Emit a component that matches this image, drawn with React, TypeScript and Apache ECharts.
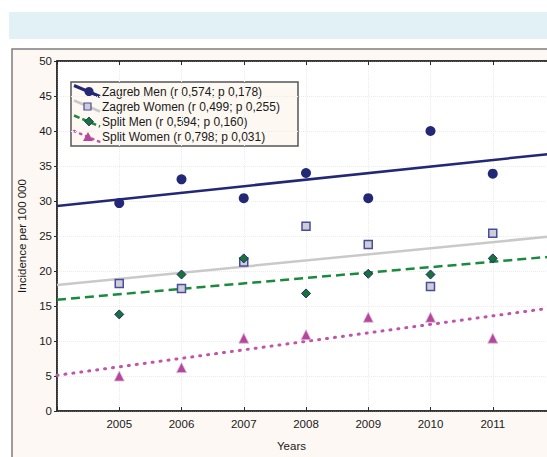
import React, { useEffect, useRef } from "react";
import * as echarts from "echarts";

const years = [2005, 2006, 2007, 2008, 2009, 2010, 2011];
const zagrebMen = [29.7, 33.1, 30.4, 34.0, 30.4, 40.0, 33.9];
const zagrebWomen = [18.2, 17.5, 21.3, 26.4, 23.8, 17.8, 25.4];
const splitMen = [13.8, 19.5, 21.8, 16.8, 19.6, 19.5, 21.8];
const splitWomen = [5.0, 6.2, 10.4, 10.9, 13.4, 13.4, 10.4];

const fitYears = [2004, 2012];
const zagrebMenFit = [29.3, 36.8];
const zagrebWomenFit = [18.0, 25.0];
const splitMenFit = [15.9, 22.1];
const splitWomenFit = [5.1, 14.8];

const legendLabels = [
  "Zagreb Men (r 0,574; p 0,178)",
  "Zagreb Women (r 0,499; p 0,255)",
  "Split Men (r 0,594; p 0,160)",
  "Split Women (r 0,798; p 0,031)",
];

const xName = "Years";
const yName = "Incidence per 100 000";

const C_NAVY = "#222776";
const C_GRAY_LINE = "#c9c9c9";
const C_SQ_FILL = "#cdced8";
const C_SQ_BORDER = "#4a4c9c";
const C_GREEN = "#1c8a3e";
const C_GREEN_DK = "#18733a";
const C_MAGENTA = "#c054a8";
const C_TRI = "#b4479c";

const FONT = "'Liberation Sans', Arial, sans-serif";

const pts = (ys: number[]) => years.map((y, i) => [y, ys[i]]);
const fit = (ys: number[]) => fitYears.map((y, i) => [y, ys[i]]);

export default function App() {
  const ref = useRef<HTMLDivElement>(null);
  useEffect(() => {
    if (!ref.current) return;
    const chart = echarts.init(ref.current, undefined, { renderer: "svg" });
    const lx = 74;
    const rowY = [91.5, 106.5, 121.5, 137];
    const legendChildren: any[] = [
      {
        type: "rect",
        shape: { x: 71, y: 82, width: 227, height: 64 },
        style: { fill: "#fdf8f2", stroke: "#555", lineWidth: 1.5 },
      },
    ];
    legendChildren.push(
      { type: "line", shape: { x1: lx, y1: rowY[0] - 6, x2: lx + 26, y2: rowY[0] + 5 }, style: { stroke: C_NAVY, lineWidth: 3 } },
      { type: "circle", shape: { cx: lx + 15, cy: rowY[0], r: 4.5 }, style: { fill: C_NAVY } }
    );
    legendChildren.push(
      { type: "line", shape: { x1: lx, y1: rowY[1] - 6, x2: lx + 26, y2: rowY[1] + 5 }, style: { stroke: C_GRAY_LINE, lineWidth: 2.5 } },
      { type: "rect", shape: { x: lx + 10, y: rowY[1] - 3.5, width: 7, height: 7 }, style: { fill: C_SQ_FILL, stroke: C_SQ_BORDER, lineWidth: 1.2 } }
    );
    legendChildren.push(
      { type: "line", shape: { x1: lx, y1: rowY[2] - 6, x2: lx + 26, y2: rowY[2] + 5 }, style: { stroke: C_GREEN, lineWidth: 2.5, lineDash: [6, 3] } },
      { type: "polygon", shape: { points: [[lx + 15, rowY[2] - 4.5], [lx + 19.5, rowY[2]], [lx + 15, rowY[2] + 4.5], [lx + 10.5, rowY[2]]] }, style: { fill: C_GREEN_DK, stroke: C_NAVY, lineWidth: 0.8 } }
    );
    legendChildren.push(
      { type: "line", shape: { x1: lx, y1: rowY[3] - 6, x2: lx + 26, y2: rowY[3] + 5 }, style: { stroke: C_MAGENTA, lineWidth: 2.5, lineDash: [1.5, 5], lineCap: "round" } },
      { type: "polygon", shape: { points: [[lx + 14, rowY[3] - 5], [lx + 19, rowY[3] + 4], [lx + 9, rowY[3] + 4]] }, style: { fill: C_TRI } }
    );
    legendLabels.forEach((t, i) => {
      legendChildren.push({
        type: "text",
        x: 102,
        y: rowY[i],
        style: { text: t, fill: "#1a1a1a", font: `12px ${FONT}`, verticalAlign: "middle", textAlign: "left" },
      });
    });

    chart.setOption({
      animation: false,
      textStyle: { fontFamily: FONT },
      graphic: [
        { type: "rect", z: -10, shape: { x: 9, y: 12, width: 560, height: 27 }, style: { fill: "#e2f1f6" } },
        { type: "rect", z: -10, shape: { x: 12, y: 49, width: 600, height: 500 }, style: { fill: "#fdf8f3", stroke: "#7d7d7d", lineWidth: 1.5 } },
        { type: "group", z: 100, children: legendChildren },
      ],
      grid: {
        left: 57,
        right: 5,
        top: 61,
        bottom: 45,
        show: true,
        backgroundColor: "#ffffff",
        borderColor: "#2a2a2a",
        borderWidth: 1.5,
      },
      xAxis: [
        {
          type: "value",
          min: 2004,
          max: 2012,
          interval: 1,
          position: "bottom",
          name: xName,
          nameLocation: "middle",
          nameGap: 29,
          nameTextStyle: { color: "#1a1a1a", fontSize: 11.5, fontFamily: FONT, padding: [0, 29, 0, 0] },
          axisLine: { show: true, lineStyle: { color: "#2a2a2a", width: 1.5 } },
          axisTick: { show: true, inside: true, length: 4, lineStyle: { color: "#2a2a2a" } },
          axisLabel: {
            color: "#1a1a1a",
            fontSize: 11.5,
            margin: 7,
            formatter: (v: number) => (years.includes(v) ? String(v) : ""),
          },
          splitLine: { show: true, lineStyle: { color: "#ececec", type: "dotted", width: 1 } },
        },
        {
          type: "value",
          min: 2004,
          max: 2012,
          interval: 1,
          position: "top",
          axisLine: { show: true, lineStyle: { color: "#2a2a2a", width: 1.5 } },
          axisTick: { show: true, inside: true, length: 4, lineStyle: { color: "#2a2a2a" } },
          axisLabel: { show: false },
          splitLine: { show: false },
        },
      ],
      yAxis: {
        type: "value",
        min: 0,
        max: 50,
        interval: 5,
        name: yName,
        nameLocation: "middle",
        nameGap: 22,
        nameTextStyle: { color: "#1a1a1a", fontSize: 11.5, fontFamily: FONT },
        axisLine: { show: true, lineStyle: { color: "#2a2a2a", width: 1.5 } },
        axisTick: { show: true, inside: false, length: 3, lineStyle: { color: "#2a2a2a" } },
        axisLabel: { color: "#1a1a1a", fontSize: 11.5, margin: 5 },
        splitLine: { show: true, lineStyle: { color: "#ececec", type: "dotted", width: 1 } },
      },
      series: [
        {
          type: "line", name: "zmfit", data: fit(zagrebMenFit), showSymbol: false, z: 2,
          lineStyle: { color: C_NAVY, width: 2.5 },
        },
        {
          type: "line", name: "zwfit", data: fit(zagrebWomenFit), showSymbol: false, z: 2,
          lineStyle: { color: C_GRAY_LINE, width: 2.5 },
        },
        {
          type: "line", name: "smfit", data: fit(splitMenFit), showSymbol: false, z: 2,
          lineStyle: { color: C_GREEN, width: 2.5, type: [9, 5] },
        },
        {
          type: "line", name: "swfit", data: fit(splitWomenFit), showSymbol: false, z: 2,
          lineStyle: { color: C_MAGENTA, width: 3, type: [1, 7], cap: "round" },
        },
        {
          type: "scatter", name: "zm", data: pts(zagrebMen), symbol: "circle", symbolSize: 10, z: 5,
          itemStyle: { color: C_NAVY, opacity: 1 },
        },
        {
          type: "scatter", name: "zw", data: pts(zagrebWomen), symbol: "rect", symbolSize: 8, z: 5,
          itemStyle: { color: C_SQ_FILL, borderColor: C_SQ_BORDER, borderWidth: 1.5, opacity: 1 },
        },
        {
          type: "scatter", name: "sm", data: pts(splitMen), symbol: "diamond", symbolSize: 9, z: 5,
          itemStyle: { color: C_GREEN_DK, borderColor: C_NAVY, borderWidth: 1, opacity: 1 },
        },
        {
          type: "scatter", name: "sw", data: pts(splitWomen), symbol: "triangle", symbolSize: 10, z: 5,
          itemStyle: { color: C_TRI, borderColor: "#dcb6d6", borderWidth: 0.8, opacity: 1 },
        },
      ],
    });
    return () => chart.dispose();
  }, []);
  return (
    <div
      ref={ref}
      style={{ position: "fixed", left: 0, top: 0, width: 560, height: 457, background: "#ffffff" }}
    />
  );
}
